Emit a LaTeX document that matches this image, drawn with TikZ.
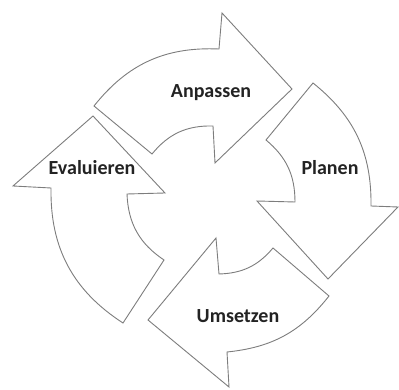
\documentclass[tikz,border=0pt]{standalone}
\usepackage{fontspec}
\setmainfont{Carlito}
\usepackage{xcolor}
\definecolor{zyklusline}{RGB}{125,125,125}
\definecolor{zyklustext}{RGB}{35,35,35}

\begin{document}
\begin{tikzpicture}[x=1pt,y=1pt,
		zyklus/.style={draw=zyklusline,fill=white,line width=0.9pt,line join=miter},
		beschriftung/.style={anchor=base,text=zyklustext,font=\bfseries\fontsize{20}{24}\selectfont}]
		\useasboundingbox (0,0) rectangle (399,390);
		% oben: Anpassen
		\draw[zyklus] (94,284) to[bend left=27] (219,341) -- (222,377) -- (292,301)
		-- (215,227) -- (213,264) to[bend right=26] (152,236) -- cycle;
		% rechts: Planen
		\draw[zyklus] (313,307) to[bend left=26] (371,184) -- (398,183) -- (328,111)
		-- (257,189) -- (295,188) to[bend right=25] (266,250) -- cycle;
		% unten: Umsetzen
		\draw[zyklus] (329,94) to[bend left=23] (227,38) -- (229,3) -- (148,70)
		-- (216,152) -- (219,116) to[bend right=24] (273,142) -- cycle;
		% links: Evaluieren
		\draw[zyklus] (123,67) to[bend left=29] (51,202) -- (13,204) -- (93,274)
		-- (165,197) -- (127,196) to[bend right=27] (164,130) -- cycle;
		% Beschriftungen
		\node[beschriftung] (anpassen) at (211,292) {Anpassen};
		\node[beschriftung] (planen) at (330,215) {Planen};
		\node[beschriftung] (umsetzen) at (238,67) {Umsetzen};
		\node[beschriftung] (evaluieren) at (92,215) {Evaluieren};
\end{tikzpicture}
\end{document}
